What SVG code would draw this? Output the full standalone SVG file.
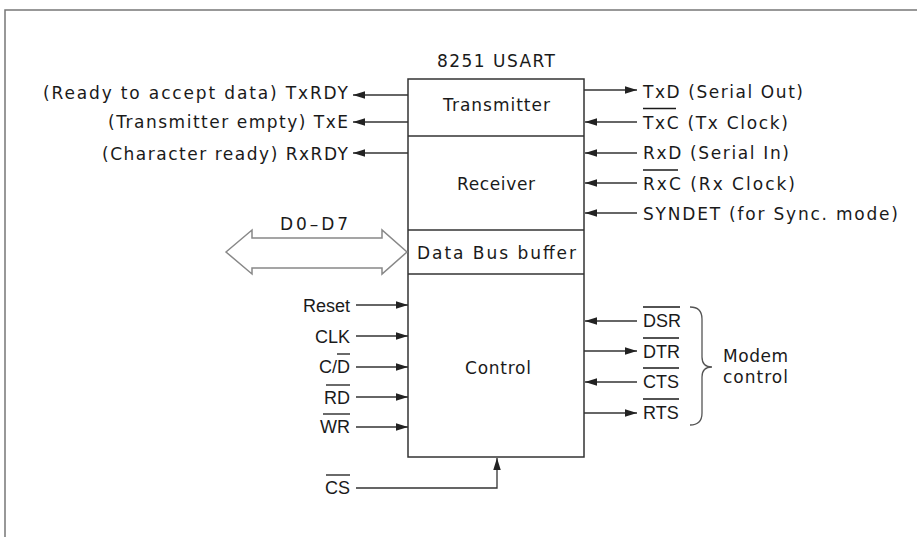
<svg xmlns="http://www.w3.org/2000/svg" width="917" height="537" viewBox="0 0 917 537">
<style>
.bg{fill:#fff}
.frame{stroke:#777;stroke-width:1.5;fill:none}
.box{fill:#fff;stroke:#333;stroke-width:1.5}
.div{stroke:#333;stroke-width:1.5}
.c{stroke:#333;stroke-width:1.3;fill:none}
.t{font-family:"DejaVu Sans","Liberation Sans",sans-serif;font-size:17px;fill:#1a1a1a}
.h{font-family:"Liberation Sans",Arial,sans-serif;font-size:18px;fill:#1a1a1a}
.ob{stroke:#1a1a1a;stroke-width:1.3}
</style>
<defs>
<marker id="ah" markerUnits="userSpaceOnUse" markerWidth="13" markerHeight="8" refX="12" refY="3.75" orient="auto">
<path d="M0,0 L12,3.75 L0,7.5 z" fill="#222"/>
</marker>
</defs>
<rect class="bg" x="0" y="0" width="917" height="537"/>
<g id="frame">
<path class="frame" d="M5,537 L5,10 L917,10"/>
</g>
<g id="usart">
<text class="t" x="437" y="67" textLength="118">8251 USART</text>
<rect class="box" x="408" y="79" width="176" height="378"/>
<line class="div" x1="408" y1="136" x2="584" y2="136"/>
<line class="div" x1="408" y1="230" x2="584" y2="230"/>
<line class="div" x1="408" y1="274" x2="584" y2="274"/>
</g>
<g id="transmitter"><text class="t" x="443" y="111" textLength="107">Transmitter</text></g>
<g id="receiver"><text class="t" x="457" y="190" textLength="78">Receiver</text></g>
<g id="databus"><text class="t" x="417" y="259" textLength="159">Data Bus buffer</text></g>
<g id="control"><text class="t" x="465" y="374" textLength="66">Control</text></g>
<g id="d0d7">
<path d="M226,252 L252,230 L252,238 L382,238 L382,230 L407,252 L382,274 L382,268 L252,268 L252,274 Z" fill="#fff" stroke="#888" stroke-width="1.5" stroke-linejoin="miter"/>
<text class="t" x="280" y="230" textLength="68">D0–D7</text>
</g>
<g id="connectors">
<line class="c" x1="408" y1="95" x2="353" y2="95" marker-end="url(#ah)"/>
<line class="c" x1="408" y1="122" x2="353" y2="122" marker-end="url(#ah)"/>
<line class="c" x1="408" y1="153" x2="353" y2="153" marker-end="url(#ah)"/>
<line class="c" x1="584" y1="90" x2="637" y2="90" marker-end="url(#ah)"/>
<line class="c" x1="637" y1="122" x2="585" y2="122" marker-end="url(#ah)"/>
<line class="c" x1="637" y1="153" x2="585" y2="153" marker-end="url(#ah)"/>
<line class="c" x1="637" y1="183" x2="585" y2="183" marker-end="url(#ah)"/>
<line class="c" x1="637" y1="213" x2="585" y2="213" marker-end="url(#ah)"/>
<line class="c" x1="356" y1="305" x2="408" y2="305" marker-end="url(#ah)"/>
<line class="c" x1="356" y1="336" x2="408" y2="336" marker-end="url(#ah)"/>
<line class="c" x1="356" y1="367" x2="408" y2="367" marker-end="url(#ah)"/>
<line class="c" x1="356" y1="397" x2="408" y2="397" marker-end="url(#ah)"/>
<line class="c" x1="356" y1="427" x2="408" y2="427" marker-end="url(#ah)"/>
<polyline class="c" points="356,488 497,488 497,458" marker-end="url(#ah)"/>
<line class="c" x1="637" y1="321" x2="585" y2="321" marker-end="url(#ah)"/>
<line class="c" x1="584" y1="351" x2="637" y2="351" marker-end="url(#ah)"/>
<line class="c" x1="637" y1="382" x2="585" y2="382" marker-end="url(#ah)"/>
<line class="c" x1="584" y1="413" x2="637" y2="413" marker-end="url(#ah)"/>
</g>
<g id="left-outputs">
<text class="t" x="43" y="99" textLength="305">(Ready to accept data) TxRDY</text>
<text class="t" x="108" y="128" textLength="240">(Transmitter empty) TxE</text>
<text class="t" x="102" y="160" textLength="246">(Character ready) RxRDY</text>
</g>
<g id="right-serial">
<text class="t" x="643" y="98" textLength="160">TxD (Serial Out)</text>
<text class="t" x="643" y="129" textLength="145">TxC (Tx Clock)</text>
<line class="ob" x1="643" y1="108.5" x2="676" y2="108.5"/>
<text class="t" x="643" y="159" textLength="146">RxD (Serial In)</text>
<text class="t" x="643" y="190" textLength="152">RxC (Rx Clock)</text>
<line class="ob" x1="643" y1="170" x2="678" y2="170"/>
<text class="t" x="643" y="220" textLength="255">SYNDET (for Sync. mode)</text>
</g>
<g id="control-inputs">
<text class="h" x="350" y="312" text-anchor="end">Reset</text>
<text class="h" x="350" y="343" text-anchor="end">CLK</text>
<text class="h" x="350" y="373" text-anchor="end">C/D</text>
<line class="ob" x1="337" y1="354" x2="350" y2="354"/>
<text class="h" x="350" y="404" text-anchor="end">RD</text>
<line class="ob" x1="326" y1="385" x2="350" y2="385"/>
<text class="h" x="350" y="433" text-anchor="end">WR</text>
<line class="ob" x1="323" y1="414" x2="350" y2="414"/>
<text class="h" x="350" y="494" text-anchor="end">CS</text>
<line class="ob" x1="326" y1="475" x2="350" y2="475"/>
</g>
<g id="modem">
<text class="h" x="643" y="327">DSR</text>
<line class="ob" x1="643" y1="307" x2="680" y2="307"/>
<text class="h" x="643" y="358">DTR</text>
<line class="ob" x1="643" y1="338" x2="679" y2="338"/>
<text class="h" x="643" y="388">CTS</text>
<line class="ob" x1="643" y1="368" x2="679" y2="368"/>
<text class="h" x="643" y="419">RTS</text>
<line class="ob" x1="643" y1="399" x2="679" y2="399"/>
<path d="M690,307 Q702,307 702,319 L702,357 Q702,367 712,367 Q702,367 702,377 L702,413 Q702,425 690,425" fill="none" stroke="#555" stroke-width="1.3"/>
<text class="t" x="723" y="362" textLength="65">Modem</text>
<text class="t" x="723" y="383" textLength="65">control</text>
</g>
</svg>
